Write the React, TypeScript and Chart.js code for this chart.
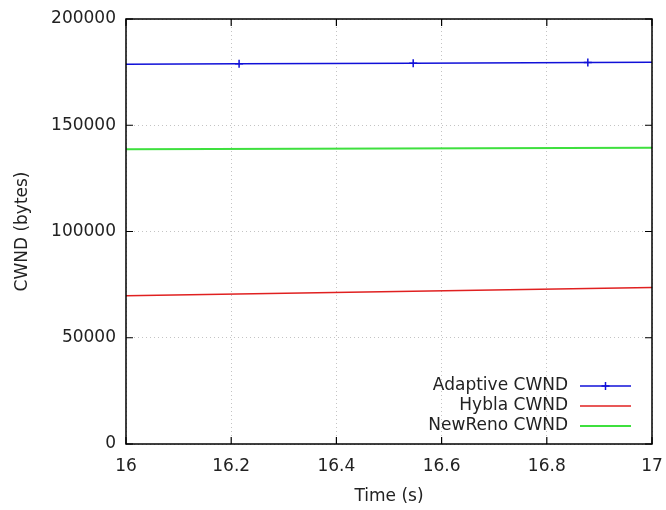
import React, { useEffect, useRef } from "react";
import { Chart, registerables } from "chart.js";

Chart.register(...registerables);

const xTicks = [16, 16.2, 16.4, 16.6, 16.8, 17];
const yTicks = [0, 50000, 100000, 150000, 200000];

const adaptiveX = [16, 16.215, 16.546, 16.878, 17];
const adaptiveY = [178700, 178900, 179200, 179500, 179700];
const adaptiveMarks = [false, true, true, true, false];

const hyblaX = [16, 17];
const hyblaY = [69800, 73600];

const newRenoX = [16, 17];
const newRenoY = [138700, 139400];

const FONT = "DejaVu Sans";
const TEXT = "#222222";

const frame = {
  id: "gnuFrame",
  afterDatasetsDraw(chart: any) {
    const { ctx, chartArea: a, scales } = chart;
    ctx.save();
    ctx.strokeStyle = "#000";
    ctx.lineWidth = 1.5;
    ctx.strokeRect(a.left, a.top, a.right - a.left, a.bottom - a.top);
    ctx.lineWidth = 1.2;
    const tl = 7;
    for (const v of xTicks) {
      const x = scales.x.getPixelForValue(v);
      ctx.beginPath();
      ctx.moveTo(x, a.bottom);
      ctx.lineTo(x, a.bottom - tl);
      ctx.moveTo(x, a.top);
      ctx.lineTo(x, a.top + tl);
      ctx.stroke();
    }
    for (const v of yTicks) {
      const y = scales.y.getPixelForValue(v);
      ctx.beginPath();
      ctx.moveTo(a.left, y);
      ctx.lineTo(a.left + tl, y);
      ctx.moveTo(a.right, y);
      ctx.lineTo(a.right - tl, y);
      ctx.stroke();
    }
    ctx.font = `17px '${FONT}'`;
    ctx.textAlign = "right";
    ctx.textBaseline = "middle";
    const textRight = a.right - 84;
    const sx0 = a.right - 72;
    const sx1 = a.right - 21;
    chart.data.datasets.forEach((ds: any, i: number) => {
      const y = a.bottom - 58 + i * 20;
      ctx.fillStyle = TEXT;
      ctx.fillText(ds.label, textRight, y);
      ctx.strokeStyle = ds.borderColor;
      ctx.lineWidth = ds.borderWidth;
      ctx.beginPath();
      ctx.moveTo(sx0, y);
      ctx.lineTo(sx1, y);
      ctx.stroke();
      if (i === 0) {
        const cx = (sx0 + sx1) / 2;
        ctx.beginPath();
        ctx.moveTo(cx, y - 4);
        ctx.lineTo(cx, y + 4);
        ctx.moveTo(cx - 4, y);
        ctx.lineTo(cx + 4, y);
        ctx.stroke();
      }
    });
    ctx.restore();
  },
};

export default function App() {
  const ref = useRef<HTMLCanvasElement | null>(null);
  useEffect(() => {
    document.body.style.margin = "0";
    const chart = new Chart(ref.current!, {
      type: "line",
      data: {
        datasets: [
          {
            label: "Adaptive CWND",
            data: adaptiveX.map((x, i) => ({ x, y: adaptiveY[i] })),
            borderColor: "#1010d8",
            backgroundColor: "#1010d8",
            borderWidth: 1.5,
            pointStyle: "cross",
            pointRadius: adaptiveMarks.map((m) => (m ? 4 : 0)),
            pointBorderWidth: 1.5,
          },
          {
            label: "Hybla CWND",
            data: hyblaX.map((x, i) => ({ x, y: hyblaY[i] })),
            borderColor: "#e02020",
            backgroundColor: "#e02020",
            borderWidth: 1.5,
            pointRadius: 0,
          },
          {
            label: "NewReno CWND",
            data: newRenoX.map((x, i) => ({ x, y: newRenoY[i] })),
            borderColor: "#3ee03e",
            backgroundColor: "#3ee03e",
            borderWidth: 2,
            pointRadius: 0,
          },
        ],
      },
      options: {
        animation: false,
        responsive: false,
        maintainAspectRatio: false,
        layout: { padding: { left: 0, right: 14, top: 19, bottom: 0 } },
        plugins: { legend: { display: false }, tooltip: { enabled: false } },
        scales: {
          x: {
            type: "linear",
            min: 16,
            max: 17,
            afterBuildTicks: (s: any) => {
              s.ticks = xTicks.map((v) => ({ value: v }));
            },
            afterFit: (s: any) => {
              s.height = 66;
              s.paddingLeft = 0;
              s.paddingRight = 0;
            },
            ticks: {
              color: TEXT,
              font: { family: FONT, size: 17 },
              padding: 12,
              maxRotation: 0,
              callback: (v: any) => String(Math.round(v * 10) / 10),
            },
            grid: { color: "#c4c4c4", lineWidth: 1, drawTicks: false },
            border: { display: false, dash: [1, 3] },
            title: {
              display: true,
              text: "Time (s)",
              color: TEXT,
              font: { family: FONT, size: 17 },
              padding: { top: 0, bottom: 3 },
            },
          },
          y: {
            type: "linear",
            min: 0,
            max: 200000,
            afterBuildTicks: (s: any) => {
              s.ticks = yTicks.map((v) => ({ value: v }));
            },
            afterFit: (s: any) => {
              s.width = 126;
              s.paddingTop = 0;
              s.paddingBottom = 0;
            },
            ticks: {
              color: TEXT,
              font: { family: FONT, size: 17 },
              padding: 10,
              callback: (v: any) => String(v),
            },
            grid: { color: "#c4c4c4", lineWidth: 1, drawTicks: false },
            border: { display: false, dash: [1, 3] },
            title: {
              display: true,
              text: "CWND (bytes)",
              color: TEXT,
              font: { family: FONT, size: 17 },
              padding: { top: 12, bottom: 0 },
            },
          },
        },
      },
      plugins: [frame],
    });
    return () => chart.destroy();
  }, []);
  return (
    <div style={{ position: "absolute", left: 0, top: 0, width: 666, height: 510, background: "#fff" }}>
      <canvas ref={ref} width={666} height={510} />
    </div>
  );
}
